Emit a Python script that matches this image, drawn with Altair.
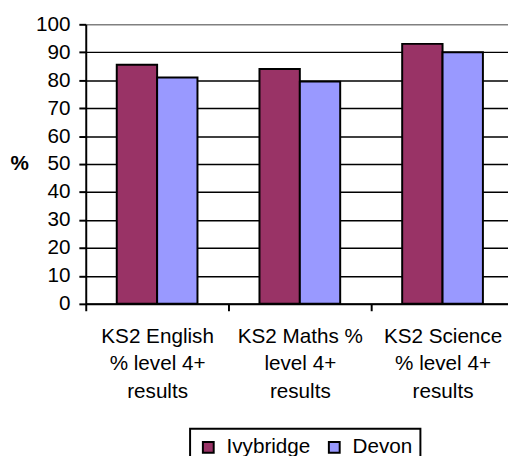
import altair as alt
import pandas as pd

categories = ["KS2 English|% level 4+|results", "KS2 Maths %|level 4+|results", "KS2 Science|% level 4+|results"]
series = ["Ivybridge", "Devon"]
ivybridge = [85.5, 84, 93]
devon = [81, 79.5, 90]
colors = ["#993366", "#9999FF"]
y_ticks = list(range(0, 101, 10))

rows = []
for c, a, b in zip(categories, ivybridge, devon):
    rows.append({"cat": c, "series": series[0], "value": a})
    rows.append({"cat": c, "series": series[1], "value": b})
df = pd.DataFrame(rows)

FONT = "Liberation Sans"
FS = 21

chart = alt.Chart(df).mark_bar(stroke="black", strokeWidth=2).encode(
    x=alt.X("cat:N", sort=categories, title=None,
            scale=alt.Scale(paddingInner=0, paddingOuter=0, range=[0, 435]),
            axis=alt.Axis(labelExpr="split(datum.label, '|')", labelAngle=0, tickBand="extent",
                          labelFontSize=FS, labelColor="black", labelPadding=15, labelLineHeight=28,
                          tickSize=7, tickColor="black", tickWidth=2,
                          domainColor="black", domainWidth=2, grid=False)),
    xOffset=alt.XOffset("series:N", sort=series, scale=alt.Scale(paddingInner=0, paddingOuter=0.768)),
    y=alt.Y("value:Q", scale=alt.Scale(domain=[0, 100], nice=False),
            axis=alt.Axis(values=y_ticks, title="%", titleAngle=0, titleFontWeight="bold",
                          titleX=-67.5, titleY=142, titleAlign="center", titleBaseline="middle",
                          titleFontSize=FS, titleColor="black",
                          labelFontSize=FS, labelColor="black", labelPadding=9,
                          tickSize=7, tickColor="black", tickWidth=2,
                          domainColor="black", domainWidth=2,
                          grid=True, gridWidth=1.5,
                          gridColor={"condition": {"test": "datum.value >= 100", "value": "#808080"}, "value": "black"})),
    color=alt.Color("series:N", sort=series, scale=alt.Scale(domain=series, range=colors),
                    legend=alt.Legend(title=None, orient="none", legendX=106, legendY=411,
                                      direction="horizontal", strokeColor="black", padding=8,
                                      labelFontSize=FS, labelColor="black", labelOffset=8,
                                      columnPadding=13, symbolType="square", symbolSize=121,
                                      symbolStrokeColor="black", symbolStrokeWidth=2,
                                      symbolOpacity=1)),
).properties(
    width=429, height=284,
    autosize=alt.AutoSizeParams(type="none"),
    padding={"left": 79, "top": 13, "right": 0, "bottom": 151},
).configure_axis(
    labelFont=FONT, titleFont=FONT
).configure_legend(
    labelFont=FONT, strokeWidth=2
).configure_view(
    stroke=None
)

chart.save("out.html", embed_options={"renderer": "svg", "actions": False})
